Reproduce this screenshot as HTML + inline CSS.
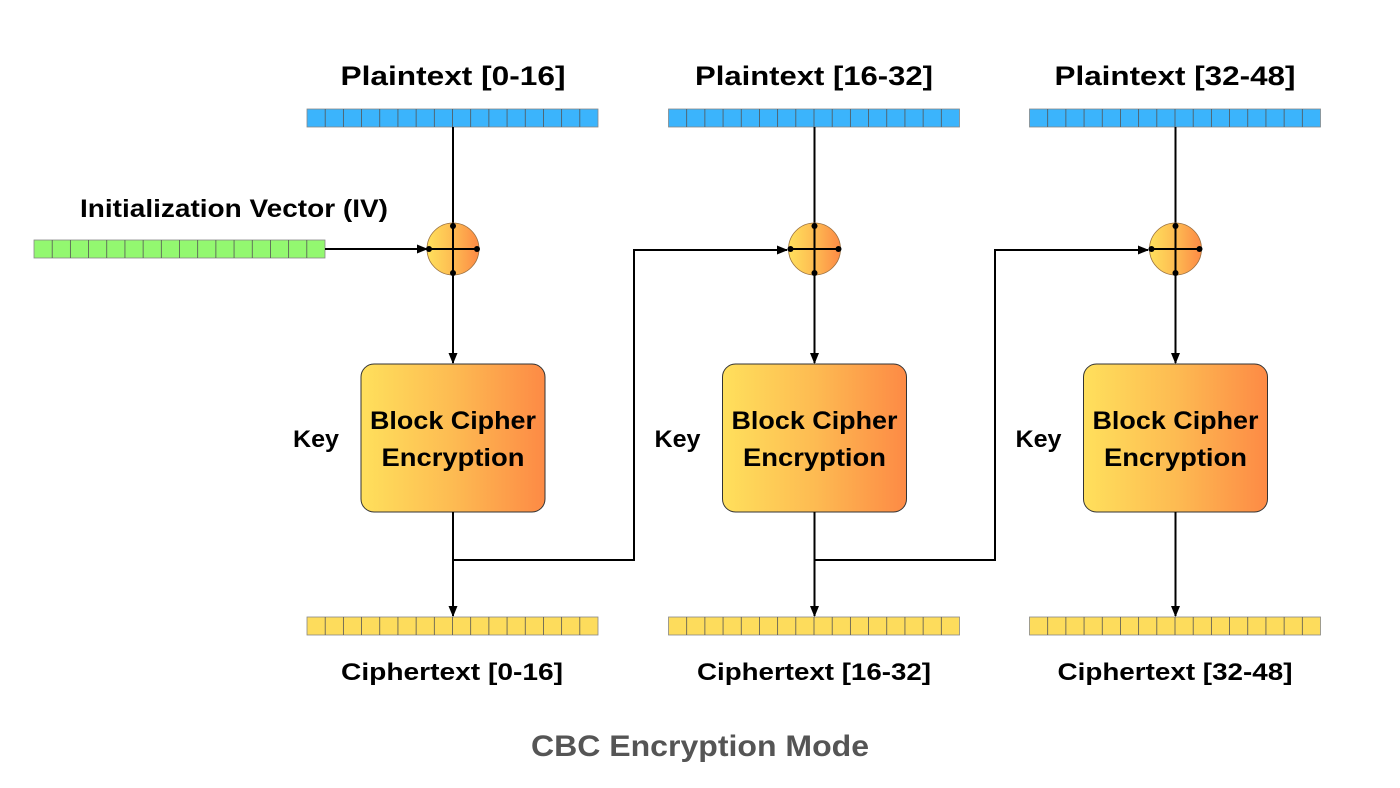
<!DOCTYPE html>
<html><head><meta charset="utf-8"><style>
html,body{margin:0;padding:0;background:#fff;}
svg{display:block;}
text{font-family:"Liberation Sans",sans-serif;font-weight:bold;}
</style></head><body>
<svg width="1400" height="788" viewBox="0 0 1400 788" xmlns="http://www.w3.org/2000/svg">
<defs>
<linearGradient id="og" x1="0" x2="1" y1="0" y2="0">
<stop offset="0" stop-color="#ffe05c"/><stop offset="0.5" stop-color="#fdbb52"/><stop offset="1" stop-color="#fd8a45"/>
</linearGradient>
<marker id="ar" markerWidth="11" markerHeight="11" refX="10" refY="5.5" orient="auto" markerUnits="userSpaceOnUse">
<path d="M0,1 L11,5.5 L0,10 z" fill="#000"/>
</marker>
<g id="bar" stroke-width="0.8">
<rect x="0" y="0" width="291" height="18" stroke="#888"/>
<g stroke="#555">
<line x1="18.19" y1="0" x2="18.19" y2="18"/><line x1="36.38" y1="0" x2="36.38" y2="18"/>
<line x1="54.56" y1="0" x2="54.56" y2="18"/><line x1="72.75" y1="0" x2="72.75" y2="18"/>
<line x1="90.94" y1="0" x2="90.94" y2="18"/><line x1="109.13" y1="0" x2="109.13" y2="18"/>
<line x1="127.31" y1="0" x2="127.31" y2="18"/><line x1="145.5" y1="0" x2="145.5" y2="18"/>
<line x1="163.69" y1="0" x2="163.69" y2="18"/><line x1="181.88" y1="0" x2="181.88" y2="18"/>
<line x1="200.06" y1="0" x2="200.06" y2="18"/><line x1="218.25" y1="0" x2="218.25" y2="18"/>
<line x1="236.44" y1="0" x2="236.44" y2="18"/><line x1="254.63" y1="0" x2="254.63" y2="18"/>
<line x1="272.81" y1="0" x2="272.81" y2="18"/>
</g>
</g>
<g id="col">
<use href="#bar" x="307" y="109" fill="#3bb4fc"/>
<use href="#bar" x="307" y="617" fill="#fddc5c"/>
<line x1="453" y1="127" x2="453" y2="223" stroke="#000" stroke-width="2"/>
<circle cx="453" cy="249" r="26" fill="url(#og)" stroke="#9a7040" stroke-width="0.8"/>
<line x1="453" y1="223" x2="453" y2="275" stroke="#000" stroke-width="2"/>
<line x1="427" y1="249" x2="477" y2="249" stroke="#000" stroke-width="2"/>
<circle cx="453" cy="226" r="3"/><circle cx="453" cy="273" r="3"/>
<circle cx="429" cy="249" r="3"/><circle cx="477" cy="249" r="3"/>
<line x1="453" y1="275" x2="453" y2="363" stroke="#000" stroke-width="2" marker-end="url(#ar)"/>
<rect x="361" y="364" width="184" height="148" rx="13" fill="url(#og)" stroke="#333" stroke-width="1"/>
<text x="453" y="429" font-size="25" text-anchor="middle" textLength="166" lengthAdjust="spacingAndGlyphs">Block Cipher</text>
<text x="453" y="466" font-size="25" text-anchor="middle" textLength="143" lengthAdjust="spacingAndGlyphs">Encryption</text>
<text x="316" y="447" font-size="24" text-anchor="middle" textLength="46" lengthAdjust="spacingAndGlyphs">Key</text>
<line x1="453" y1="512" x2="453" y2="616" stroke="#000" stroke-width="2" marker-end="url(#ar)"/>
</g>
</defs>
<use href="#col"/>
<use href="#col" x="361.5"/>
<use href="#col" x="722.5"/>
<use href="#bar" x="34" y="240" fill="#93f870"/>
<line x1="325" y1="249" x2="427" y2="249" stroke="#000" stroke-width="2" marker-end="url(#ar)"/>
<path d="M453,560 H634 V250 H787" fill="none" stroke="#000" stroke-width="2" marker-end="url(#ar)"/>
<path d="M814,560 H995 V250 H1148" fill="none" stroke="#000" stroke-width="2" marker-end="url(#ar)"/>
<g font-size="27" text-anchor="middle" lengthAdjust="spacingAndGlyphs">
<text x="453" y="85" textLength="225" lengthAdjust="spacingAndGlyphs">Plaintext [0-16]</text>
<text x="814" y="85" textLength="238" lengthAdjust="spacingAndGlyphs">Plaintext [16-32]</text>
<text x="1175" y="85" textLength="241" lengthAdjust="spacingAndGlyphs">Plaintext [32-48]</text>
<text x="234" y="217" font-size="25" textLength="308" lengthAdjust="spacingAndGlyphs">Initialization Vector (IV)</text>
</g>
<g font-size="24" text-anchor="middle">
<text x="452" y="680" textLength="222" lengthAdjust="spacingAndGlyphs">Ciphertext [0-16]</text>
<text x="814" y="680" textLength="234" lengthAdjust="spacingAndGlyphs">Ciphertext [16-32]</text>
<text x="1175" y="680" textLength="235" lengthAdjust="spacingAndGlyphs">Ciphertext [32-48]</text>
</g>
<text x="700" y="756" font-size="30" text-anchor="middle" fill="#555" textLength="338" lengthAdjust="spacingAndGlyphs">CBC Encryption Mode</text>
</svg>
</body></html>
